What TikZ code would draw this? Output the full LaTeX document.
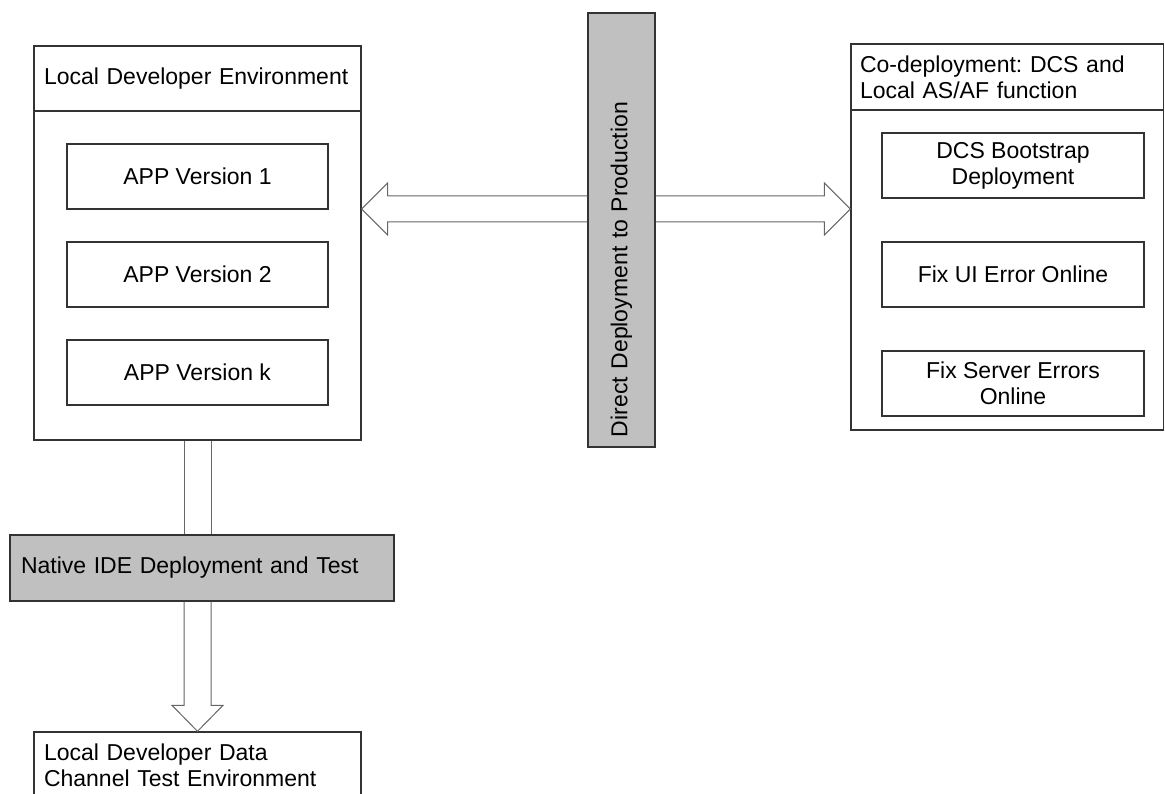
\documentclass[tikz,border=0pt]{standalone}
\usepackage{fontspec}
\setmainfont{Liberation Sans}
\usetikzlibrary{calc}
\definecolor{edge}{HTML}{333333}
\definecolor{arrowedge}{HTML}{666666}
\definecolor{barfill}{HTML}{C0C0C0}
\frenchspacing
\begin{document}
\begin{tikzpicture}[x=1pt,y=-1pt,
  every node/.style={font=\fontsize{23}{26}\selectfont},
  box/.style={draw=edge, line width=1.4pt, inner sep=0pt},
  head/.style={box, align=left, inner xsep=10pt},
  item/.style={box, minimum height=65pt, align=center},
  grey/.style={box, fill=barfill},
  hollow/.style={draw=arrowedge, line width=1pt, line join=miter}]
\useasboundingbox (0,0) rectangle (1165,794);

% left container
\node[box, minimum width=327pt, minimum height=394pt] (ldev) at (197.5,243) {};
\node[head, text width=307pt, minimum height=65pt] (ldevh) at (197.5,78.5) {Local Developer Environment};
\node[item, minimum width=261pt] (a1) at (197.5,176.5) {APP Version 1};
\node[item, minimum width=261pt] (a2) at (197.5,274.5) {APP Version 2};
\node[item, minimum width=261pt] (ak) at (197.5,372.5) {APP Version k};

% right container
\node[box, minimum width=312.5pt, minimum height=386pt] (rdev) at (1007.25,237) {};
\node[head, inner xsep=9pt, text width=294.5pt, minimum height=66pt] (rdevh) at (1007.25,77) {Co-deployment: DCS and\\Local AS/AF function};
\node[item, minimum width=262pt] (r1) at (1013,165.5) {DCS Bootstrap\\Deployment};
\node[item, minimum width=262pt] (r2) at (1013,274.5) {Fix UI Error Online};
\node[item, minimum width=262pt] (r3) at (1013,383.5) {Fix Server Errors\\Online};

% vertical grey bar (rotated: north = page left, south = page right)
\node[grey, rotate=90, minimum width=434pt, minimum height=67pt, text width=414pt, inner xsep=10pt, align=left] (bar) at (621.5,230) {Direct Deployment to Production};

% grey native box
\node[grey, minimum height=66pt, text width=362pt, inner xsep=11pt, align=left] (nat) at (202,568) {Native IDE Deployment and Test};

% bottom box
\node[head, text width=307pt, minimum height=66pt] (ldct) at (197.5,765) {Local Developer Data\\Channel Test Environment};

% horizontal hollow arrows
\coordinate (ax) at (0,209);
\coordinate (tl) at (ldev.east |- ax);
\coordinate (tr) at (rdev.west |- ax);
\draw[hollow] ($(bar.north |- ax)+(0,-13)$) -- ($(tl)+(26,-13)$) -- ($(tl)+(26,-26)$) -- (tl)
  -- ($(tl)+(26,26)$) -- ($(tl)+(26,13)$) -- ($(bar.north |- ax)+(0,13)$);
\draw[hollow] ($(bar.south |- ax)+(0,-13)$) -- ($(tr)+(-26,-13)$) -- ($(tr)+(-26,-26)$) -- (tr)
  -- ($(tr)+(-26,26)$) -- ($(tr)+(-26,13)$) -- ($(bar.south |- ax)+(0,13)$);

% vertical hollow arrow
\coordinate (tb) at (ldev.south |- ldct.north);
\draw[hollow] ($(ldev.south)+(-13.5,0)$) -- ($(ldev.south |- nat.north)+(-13.5,0)$);
\draw[hollow] ($(ldev.south)+(13.5,0)$) -- ($(ldev.south |- nat.north)+(13.5,0)$);
\draw[hollow] ($(ldev.south |- nat.south)+(-13.5,0)$) -- ($(tb)+(-13.5,-26)$) -- ($(tb)+(-25.5,-26)$) -- (tb)
  -- ($(tb)+(25.5,-26)$) -- ($(tb)+(13.5,-26)$) -- ($(ldev.south |- nat.south)+(13.5,0)$);
\end{tikzpicture}
\end{document}
